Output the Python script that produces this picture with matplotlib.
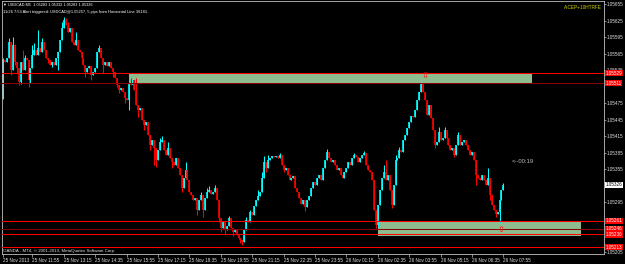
import numpy as np
import matplotlib
matplotlib.use('Agg')
import matplotlib.pyplot as plt
from matplotlib.patches import Rectangle
from matplotlib.transforms import blended_transform_factory

plt.rcParams['font.family'] = ['Liberation Sans', 'DejaVu Sans']

# USDCAD M5 closes, in points above 1.05000 (1 point = 0.00001)
first_open = 482
close_pts = [
    553, 549, 557, 586, 535, 580, 549, 538, 513, 549, 535, 557, 553, 517, 538, 562,
    571, 562, 575, 567, 586, 571, 557, 553, 544, 549, 545,
    557, 567, 589, 611, 626, 617, 604, 611, 586, 580, 589, 571, 567, 557, 544, 531,
    538, 542, 526, 531, 538, 567, 575, 557, 544, 549, 542, 549, 538, 531, 520, 507,
    498, 502, 495, 484, 480, 509, 507, 517, 498, 471, 462, 466, 444, 435, 440, 417,
    398, 407, 393, 371, 389, 404, 407, 389, 380, 393, 375, 367, 362,
    375, 357, 344, 320, 338, 353, 335, 313, 307, 298, 302, 280, 298, 307, 280, 302,
    313, 317, 309, 313, 320, 298, 266, 247, 258, 244, 251, 266, 247, 240, 244, 235,
    229, 226, 222, 244, 262, 258, 277, 271, 287, 298, 306, 313, 338, 367, 357, 371,
    375, 378, 377, 378, 375, 380, 362, 353, 357, 344, 335, 338, 342,
    320, 313, 302, 291, 298, 286, 298, 306, 320, 331, 326, 338, 344, 335, 357, 371,
    386, 375, 367, 371, 362, 353, 357, 344, 338, 349, 357, 367, 362, 375, 380, 377,
    367, 375, 380, 384, 362, 353, 349, 335, 280, 253, 289, 317, 338, 349, 335, 344,
    317, 289, 326, 371, 375, 389, 386, 407, 417, 429, 440, 451, 449,
    462, 480, 495, 509, 495, 480, 453, 471, 447, 426, 398, 404, 422, 407, 411, 426,
    411, 398, 389, 393, 380, 398, 417, 398, 404, 407, 398, 389, 380, 386, 371, 344,
    338, 335, 344, 335, 326, 338, 307, 289, 280, 273, 277, 298, 317, 326,
]

# bars whose high / low reach past the body (bar index: points)
wick_high = {
    0: 557, 3: 593, 5: 595, 6: 582, 10: 571, 11: 562, 15: 580, 16: 584, 18: 607,
    20: 593, 30: 622, 31: 631, 32: 629, 33: 622, 37: 604, 49: 580, 65: 520,
    66: 520, 68: 520, 80: 411, 81: 415, 84: 404, 93: 367, 101: 313, 104: 320,
    105: 324, 108: 326, 115: 269, 124: 267, 126: 280, 130: 317, 132: 349,
    133: 378, 135: 380, 141: 384, 165: 391, 179: 384, 184: 387, 194: 362,
    195: 371, 200: 380, 202: 395, 213: 517, 222: 431, 225: 431, 232: 422,
    247: 357, 255: 329,
}
wick_low = {
    0: 484, 4: 526, 6: 544, 7: 529, 8: 507, 9: 509, 13: 504, 14: 511, 23: 547,
    25: 540, 28: 535, 42: 522, 45: 517, 51: 529, 56: 522, 58: 504, 59: 493,
    62: 475, 64: 462, 69: 449, 72: 426, 75: 389, 77: 362, 78: 358, 86: 357,
    91: 313, 99: 271, 102: 267, 110: 258, 111: 240, 113: 237, 117: 233,
    121: 220, 122: 217, 134: 349, 143: 349, 154: 278, 190: 247, 191: 249,
    198: 284, 220: 393, 230: 377, 241: 326, 248: 298, 251: 267, 253: 257,
}

time_bars = [0, 15, 31, 47, 63, 79, 95, 111, 127, 143, 159, 175, 191, 207, 223, 239, 255]
time_labels = ["25 Nov 2013", "25 Nov 11:55", "25 Nov 13:15", "25 Nov 14:35",
               "25 Nov 15:55", "25 Nov 17:15", "25 Nov 18:35", "25 Nov 19:55",
               "25 Nov 21:15", "25 Nov 22:35", "25 Nov 23:55", "26 Nov 01:15",
               "26 Nov 02:35", "26 Nov 03:55", "26 Nov 05:15", "26 Nov 06:35",
               "26 Nov 07:55"]

price_ticks = [1.05655, 1.05625, 1.05595, 1.05565, 1.05535, 1.05475, 1.05445,
               1.05415, 1.05385, 1.05355, 1.05295, 1.05205]

# horizontal lines drawn on the chart
level_prices = [1.05529, 1.05511, 1.05261, 1.05246, 1.05236, 1.05213]
level_colors = ['#ff0000', '#8b0000', '#ff0000', '#8b0000', '#ff0000', '#ff0000']

# supply / demand rectangles (bar start, bar end, low, high)
zone_start = [64.2, 191.1]
zone_end = [269.6, 294.5]
zone_low = [1.05510, 1.05234]
zone_high = [1.05529, 1.05261]

# alert arrows
arrow_bars = [215, 254]
arrow_prices = [1.05522, 1.05244]
arrow_marks = ['\u21e9', '\u21e7']

current_price = 1.05326

closes = 1.05 + np.array(close_pts) / 1e5
opens = np.concatenate([[1.05 + first_open / 1e5], closes[:-1]])
body_lo = np.minimum(opens, closes)
body_hi = np.maximum(opens, closes)
highs = body_hi.copy()
lows = body_lo.copy()
for k, v in wick_high.items():
    highs[k] = max(highs[k], 1.05 + v / 1e5)
for k, v in wick_low.items():
    lows[k] = min(lows[k], 1.05 + v / 1e5)

x = np.arange(len(closes))
colors = np.where(closes > opens, '#00ffff', '#ff0000')

fig = plt.figure(figsize=(6.25, 2.64), dpi=100, facecolor='black')
ax = fig.add_axes([2 / 625, 10 / 264, 602 / 625, 253 / 264])
ax.set_facecolor('black')

# zones under the candles
for s, e, lo, hi in zip(zone_start, zone_end, zone_low, zone_high):
    ax.add_patch(Rectangle((s, lo), e - s, hi - lo, facecolor='#8fbc8f',
                           edgecolor='none', zorder=1))

ax.vlines(x, lows, highs, colors=colors, lw=0.75, zorder=2)
ax.vlines(x, body_lo, body_hi, colors=colors, lw=1.2, zorder=2)

for p, c in zip(level_prices, level_colors):
    ax.axhline(p, color=c, lw=0.75, zorder=3)

for b, p, m in zip(arrow_bars, arrow_prices, arrow_marks):
    ax.text(b, p, m, color='#ff0000', fontsize=6, ha='center', va='center', zorder=4)

ax.set_xlim(-0.51, 306.24)
ax.set_ylim(1.052005, 1.056605)

for s in ax.spines.values():
    s.set_color('#c0c0c0')
    s.set_linewidth(0.6)

ax.yaxis.tick_right()
ax.set_yticks(price_ticks)
ax.set_yticklabels([f"{p:.5f}" for p in price_ticks])
ax.tick_params(axis='y', colors='#c0c0c0', labelcolor='#e0e0e0', length=1.5,
               width=0.5, pad=0.6, labelsize=3.3)
ax.set_xticks(time_bars)
ax.set_xticklabels(time_labels)
ax.tick_params(axis='x', colors='#c0c0c0', labelcolor='#e0e0e0', length=2,
               width=0.5, pad=1, labelsize=3.3)
for t in ax.get_xticklabels():
    t.set_ha('left')

# price tags on the right scale
trans = blended_transform_factory(ax.transAxes, ax.transData)
for p in level_prices:
    ax.text(1.003, p, f"{p:.5f}", transform=trans, ha='left', va='center',
            fontsize=3.3, color='white', zorder=6, clip_on=False,
            bbox=dict(boxstyle='square,pad=0.12', fc='#ff0000', ec='none'))
ax.text(1.003, current_price, f"{current_price:.5f}", transform=trans, ha='left',
        va='center', fontsize=3.3, color='black', zorder=6, clip_on=False,
        bbox=dict(boxstyle='square,pad=0.12', fc='white', ec='none'))

# chart captions
ax.text(0.002, 0.988, "\u25bc USDCAD,M5  1.05283 1.05332 1.05283 1.05326",
        transform=ax.transAxes, color='white', fontsize=2.8, va='center')
ax.text(0.002, 0.958, "11/26 7:53 Alert triggered: USDCAD@1.05257, 5 pips from "
        "Horizontal Line 36181.", transform=ax.transAxes, color='white',
        fontsize=2.9, va='center')
ax.text(0.996, 0.976, "A:CEP+10HTRFE", transform=ax.transAxes, color='#d0d000',
        fontsize=3.4, ha='right', va='center')
ax.text(0.847, 0.364, "<--00:19", transform=ax.transAxes, color='#c0c0c0',
        fontsize=4.2, va='center')
ax.text(0.002, 0.012, "OANDA - MT4, \u00a9 2001-2013, MetaQuotes Software Corp.",
        transform=ax.transAxes, color='#e0e0e0', fontsize=3.2, va='center')

fig.savefig("out.png", dpi=100, facecolor='black')
plt.close(fig)
